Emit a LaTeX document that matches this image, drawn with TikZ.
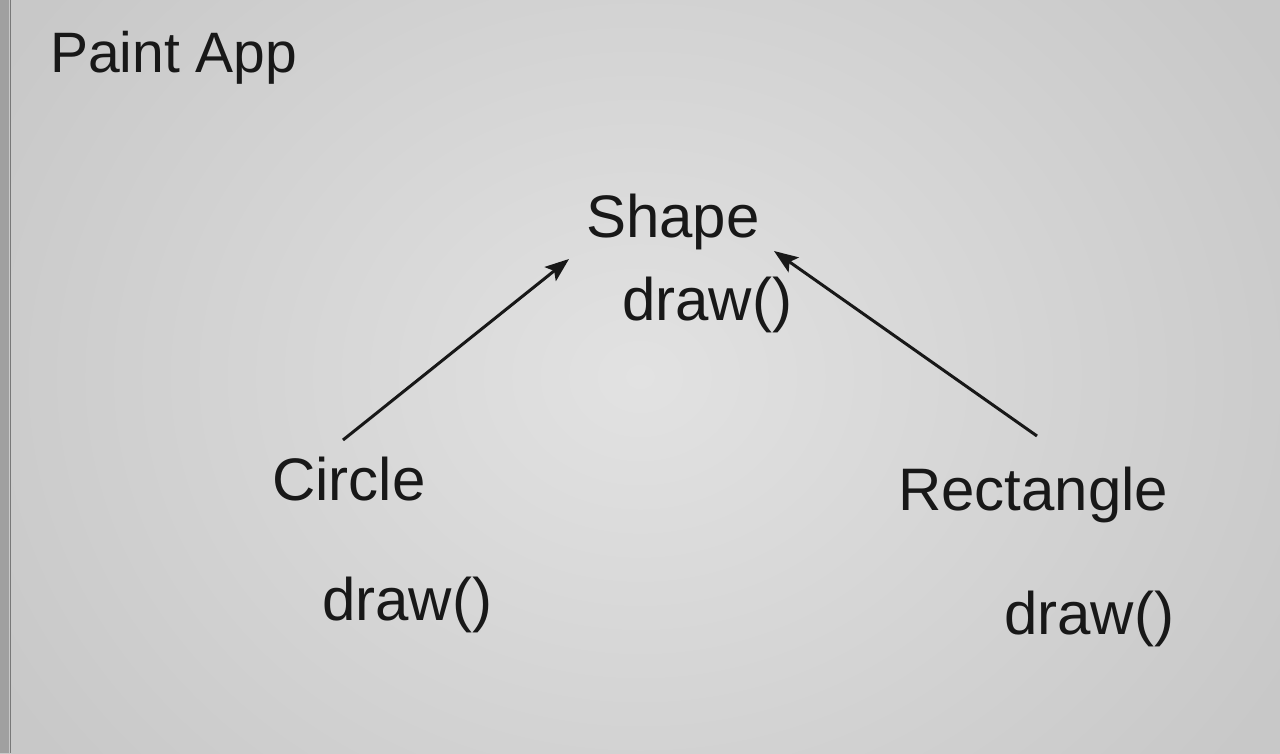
\documentclass[tikz,border=0pt]{standalone}
\usepackage{fontspec}
\setmainfont{Liberation Sans}
\usetikzlibrary{arrows.meta}
\definecolor{screenmid}{RGB}{226,226,226}
\definecolor{screenedge}{RGB}{200,200,200}
\definecolor{inkc}{RGB}{24,24,24}
\tikzset{
  lbl/.style={inner sep=0pt, anchor=base west, text=inkc, font=\fontsize{60}{70}\selectfont},
  inherit/.style={draw=inkc, line width=3pt, -{Stealth[length=24pt,width=18pt,inset=5pt]}}
}
\begin{document}
\begin{tikzpicture}[x=1pt,y=-1pt]
\useasboundingbox (0,0) rectangle (1280,753);
\fill[screenedge] (0,0) rectangle (1280,753);
\shade[inner color=screenmid, outer color=screenedge] (-100,-250) rectangle (1380,1003);
\fill[screenedge!80!black] (0,0) rectangle (9,753);
\draw[screenedge!60!black, line width=1pt] (10,0) -- (10,753);
\node[lbl, font=\fontsize{57}{68}\selectfont] (title) at (50,72) {Paint App};
\node[lbl] (shape) at (586,237) {Shape};
\node[lbl] (shapedraw) at (622,320) {draw()};
\node[lbl] (circle) at (272,500) {Circle};
\node[lbl] (circledraw) at (322,620) {draw()};
\node[lbl] (rect) at (898,510) {Rectangle};
\node[lbl] (rectdraw) at (1004,634) {draw()};
\coordinate (cfrom) at (343,440);
\coordinate (cto) at (569,259);
\coordinate (rfrom) at (1037,436);
\coordinate (rto) at (774,251);
\draw[inherit] (cfrom) -- (cto);
\draw[inherit] (rfrom) -- (rto);
\end{tikzpicture}
\end{document}
